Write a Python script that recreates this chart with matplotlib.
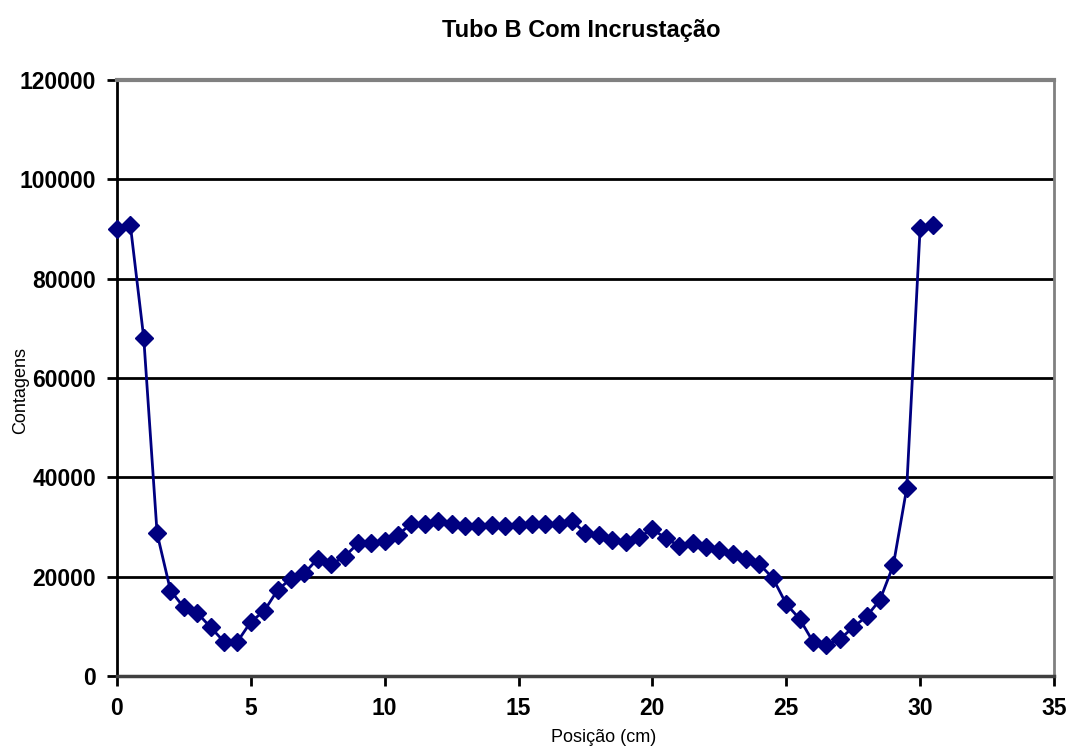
import matplotlib.pyplot as plt
import numpy as np

plt.rcParams['font.family'] = ['Liberation Sans', 'DejaVu Sans']

# position along the tube (cm) and measured counts
posicao = [0, 0.5, 1, 1.5, 2, 2.5, 3, 3.5, 4, 4.5, 5, 5.5, 6, 6.5, 7, 7.5, 8, 8.5,
           9, 9.5, 10, 10.5, 11, 11.5, 12, 12.5, 13, 13.5, 14, 14.5, 15, 15.5,
           16, 16.5, 17, 17.5, 18, 18.5, 19, 19.5, 20, 20.5, 21, 21.5, 22, 22.5,
           23, 23.5, 24, 24.5, 25, 25.5, 26, 26.5, 27, 27.5, 28, 28.5, 29, 29.5,
           30, 30.5]
contagens = [90000, 90800, 68100, 28700, 17200, 13800, 12700, 9800, 6900, 6900,
             10900, 13100, 17300, 19600, 20700, 23600, 22500, 24000, 26700, 26700,
             27200, 28400, 30700, 30700, 31300, 30500, 30100, 30100, 30300, 30100,
             30300, 30600, 30700, 30700, 31300, 28700, 28400, 27400, 26900, 27900,
             29600, 27700, 26200, 26700, 25900, 25400, 24500, 23600, 22500, 19700,
             14500, 11500, 6900, 6200, 7400, 9800, 12000, 15300, 22300, 37800,
             90100, 90800]

x_ticks = np.arange(0, 36, 5)
y_ticks = np.arange(0, 120001, 20000)

fig = plt.figure(figsize=(10.7, 7.51), dpi=100)
ax = fig.add_axes([0.1093, 0.0999, 0.8757, 0.7936])

# horizontal gridlines
for yv in y_ticks[1:-1]:
    ax.axhline(yv, color='black', lw=2.0, zorder=1)

ax.plot(posicao, contagens, color='#000080', lw=2.0, marker='D', ms=9,
        markeredgecolor='#000080', markerfacecolor='#000080', zorder=3,
        clip_on=False)

ax.set_xlim(0, 35)
ax.set_ylim(0, 120000)
ax.set_xticks(x_ticks)
ax.set_yticks(y_ticks)
ax.tick_params(direction='out', length=7, width=2, color='black',
               labelsize=16.5, pad=8)
for lab in ax.get_xticklabels() + ax.get_yticklabels():
    lab.set_fontweight('bold')

ax.spines['left'].set_color('black')
ax.spines['left'].set_linewidth(2)
ax.spines['bottom'].set_color('#404040')
ax.spines['bottom'].set_linewidth(2.5)
ax.spines['top'].set_color('#808080')
ax.spines['top'].set_linewidth(3)
ax.spines['right'].set_color('#808080')
ax.spines['right'].set_linewidth(2)

fig.text(0.543, 0.96, 'Tubo B Com Incrustação', ha='center', va='center',
         fontsize=17, fontweight='bold')
fig.text(0.564, 0.018, 'Posição (cm)', ha='center', va='center', fontsize=13)
fig.text(0.019, 0.48, 'Contagens', ha='center', va='center', fontsize=13,
         rotation=90)

fig.savefig('out.png', dpi=100)
